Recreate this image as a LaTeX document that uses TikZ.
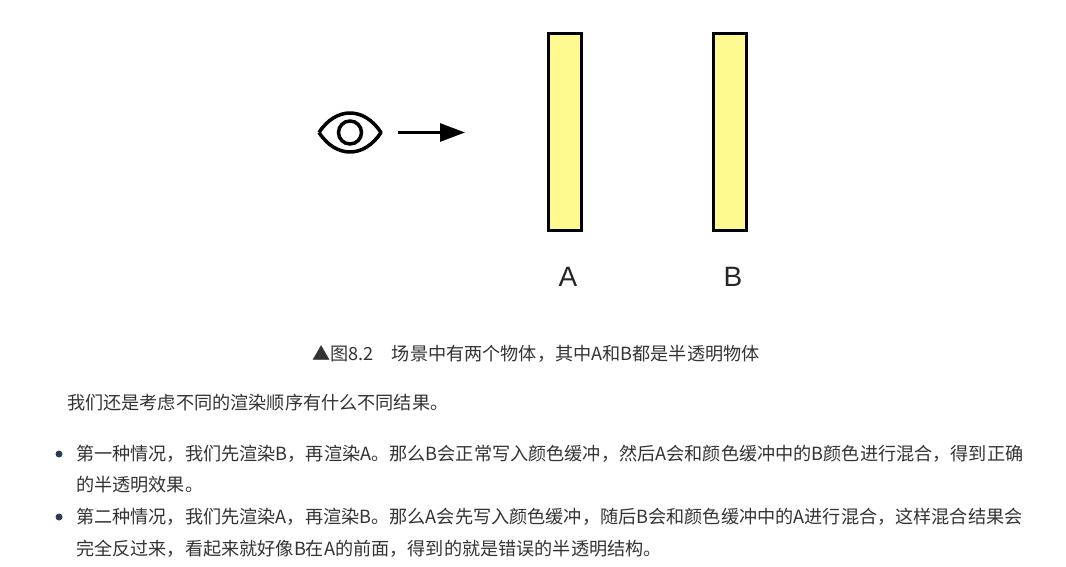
\documentclass[tikz,border=0pt]{standalone}
\usepackage{fontspec}
\usepackage{tikz}
\usetikzlibrary{arrows.meta}
\setmainfont{Noto Sans CJK SC}
\newfontfamily\labelfont{Liberation Sans}
\definecolor{panelyellow}{rgb}{1.0,0.98,0.56}
\definecolor{bodytext}{rgb}{0.2,0.2,0.2}
\definecolor{bulletdark}{rgb}{0.17,0.24,0.31}
\tikzset{
    panel/.style={draw=black, line width=3pt, fill=panelyellow, minimum width=33pt, minimum height=197pt, inner sep=0pt},
    panellabel/.style={font=\labelfont\fontsize{28}{28}\selectfont, text=black!85, inner sep=0pt},
    bodyline/.style={anchor=west, inner sep=0pt, text=bodytext, font=\fontsize{18.15}{18}\selectfont},
    bulletdot/.style={circle, fill=bulletdark, minimum size=7pt, inner sep=0pt}
}

\begin{document}
\begin{tikzpicture}[x=1pt, y=-1pt, >={Triangle[length=25pt, width=18pt]}]
    \useasboundingbox (0, 0) rectangle (1066, 567);

    % Eye
    \draw[line width=3.5pt, line join=round] (319, 132.5) .. controls (336, 106.5) and (364, 106.5) .. (381, 132.5)
        .. controls (364, 158.5) and (336, 158.5) .. (319, 132.5);
    \node[circle, draw, line width=3.5pt, minimum size=23pt, inner sep=0pt] (pupil) at (350, 132.5) {};

    % Gaze direction
    \coordinate (gazestart) at (398, 132.5);
    \coordinate (gazeend) at (465, 132.5);
    \draw[->, line width=3pt] (gazestart) -- (gazeend);

    % Objects
    \node[panel] (panelA) at (565, 132) {};
    \node[panel] (panelB) at (730, 132) {};
    \node[panellabel] (labelA) at (568, 277) {A};
    \node[panellabel] (labelB) at (733, 277) {B};

    % Caption
    \node[bodyline, anchor=center] (caption) at (536, 354) {▲图8.2　场景中有两个物体，其中A和B都是半透明物体};

    % Paragraph
    \node[bodyline] (intro) at (67, 403) {我们还是考虑不同的渲染顺序有什么不同结果。};

    % Bullet list
    \node[bulletdot] (dotone) at (59, 454) {};
    \node[bodyline] (lineone) at (76, 454) {第一种情况，我们先渲染B，再渲染A。那么B会正常写入颜色缓冲，然后A会和颜色缓冲中的B颜色进行混合，得到正确};
    \node[bodyline] (linetwo) at (76, 485) {的半透明效果。};
    \node[bulletdot] (dottwo) at (59, 517) {};
    \node[bodyline] (linethree) at (76, 517) {第二种情况，我们先渲染A，再渲染B。那么A会先写入颜色缓冲，随后B会和颜色缓冲中的A进行混合，这样混合结果会};
    \node[bodyline] (linefour) at (76, 549) {完全反过来，看起来就好像B在A的前面，得到的就是错误的半透明结构。};
\end{tikzpicture}
\end{document}
